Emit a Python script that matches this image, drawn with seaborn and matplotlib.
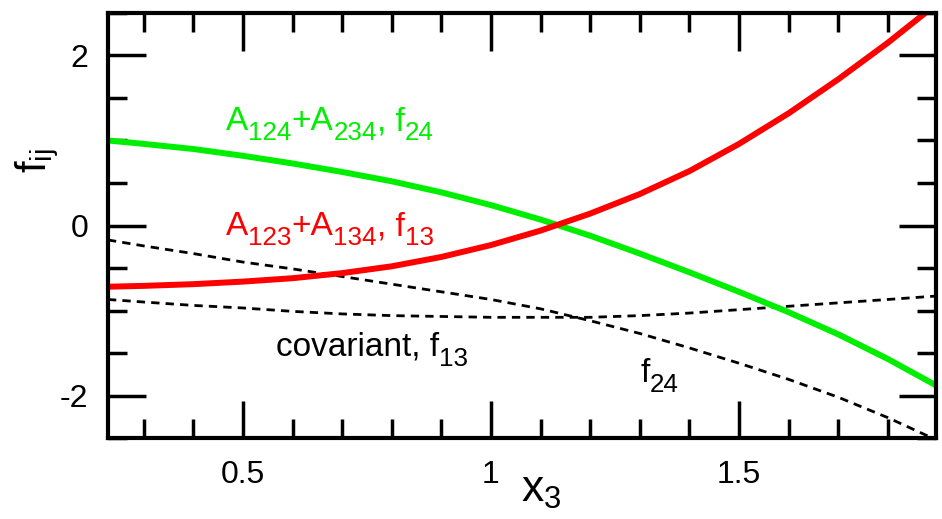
import numpy as np
import pandas as pd
import matplotlib
matplotlib.use('Agg')
import matplotlib.pyplot as plt
import seaborn as sns
from matplotlib.ticker import MultipleLocator

# values
x3 = [0.228, 0.3, 0.4, 0.5, 0.6, 0.7, 0.8, 0.9, 1.0, 1.1,
      1.2, 1.3, 1.4, 1.5, 1.6, 1.7, 1.8, 1.897]
f24_a124_a234 = [1.00, 0.96, 0.90, 0.82, 0.73, 0.63, 0.52, 0.39, 0.24, 0.07,
                 -0.12, -0.33, -0.55, -0.78, -1.02, -1.28, -1.57, -1.88]
f13_a123_a134 = [-0.72, -0.71, -0.69, -0.66, -0.62, -0.56, -0.48, -0.37, -0.23, -0.06,
                 0.14, 0.37, 0.64, 0.96, 1.32, 1.72, 2.15, 2.60]
f13_covariant = [-0.87, -0.90, -0.94, -0.97, -1.01, -1.04, -1.06, -1.07, -1.08, -1.08,
                 -1.08, -1.06, -1.03, -0.99, -0.95, -0.91, -0.87, -0.83]
f24_covariant = [-0.17, -0.24, -0.33, -0.43, -0.51, -0.60, -0.69, -0.78, -0.87, -0.98,
                 -1.12, -1.27, -1.44, -1.62, -1.81, -2.02, -2.26, -2.52]

df = pd.DataFrame({'x3': x3, 'green': f24_a124_a234, 'red': f13_a123_a134,
                   'cov13': f13_covariant, 'cov24': f24_covariant})

sns.set_theme(style='ticks')
plt.rcParams['font.family'] = ['Liberation Sans', 'DejaVu Sans']
plt.rcParams['mathtext.default'] = 'regular'
plt.rcParams['text.color'] = 'black'
plt.rcParams['axes.labelcolor'] = 'black'
plt.rcParams['xtick.color'] = 'black'
plt.rcParams['ytick.color'] = 'black'

GREEN = '#00ee00'
RED = '#ff0000'


def sub_label(ax, x, y, parts, color, size=24, ratio=0.78, drop=0.3):
    # write text with bigger subscripts than mathtext gives, piece by piece
    renderer = ax.figure.canvas.get_renderer()
    off = 0.0
    for s, sub in parts:
        fs = size * ratio if sub else size
        dy = -drop * size if sub else 0
        t = ax.annotate(s, (x, y), xytext=(off, dy), textcoords='offset points',
                        fontsize=fs, color=color, va='baseline', ha='left',
                        annotation_clip=False)
        off += t.get_window_extent(renderer).width * 72 / ax.figure.dpi


fig = plt.figure(figsize=(9.42, 5.19), dpi=100)
ax = fig.add_axes([0.1146, 0.156, 0.879, 0.819])

dots = (0, (3, 2.2))
sns.lineplot(data=df, x='x3', y='cov13', ax=ax, color='black', lw=2, linestyle=dots)
sns.lineplot(data=df, x='x3', y='cov24', ax=ax, color='black', lw=2, linestyle=dots)
sns.lineplot(data=df, x='x3', y='green', ax=ax, color=GREEN, lw=4.3)
sns.lineplot(data=df, x='x3', y='red', ax=ax, color=RED, lw=4.3)

ax.set_xlim(0.228, 1.897)
ax.set_ylim(-2.5, 2.5)
ax.xaxis.set_minor_locator(MultipleLocator(0.1))
ax.yaxis.set_minor_locator(MultipleLocator(0.5))
ax.set_xticks([0.5, 1, 1.5])
ax.set_xticklabels(['0.5', '1', '1.5'], fontsize=23)
ax.set_yticks([-2, 0, 2])
ax.set_yticklabels(['-2', '0', '2'], fontsize=23)

for s in ax.spines.values():
    s.set_linewidth(3)
    s.set_color('black')
ax.tick_params(which='both', direction='in', top=True, right=True, width=2.5, color='black')
ax.tick_params(which='major', length=27)
ax.tick_params(which='minor', length=13.5)
ax.tick_params(axis='x', which='major', pad=16)
ax.tick_params(axis='y', which='major', pad=14)

ax.set_xlabel('$x_3$', fontsize=32, va='baseline')
ax.xaxis.set_label_coords(0.5236, -0.151)
ax.set_ylabel('$f_{ij}$', fontsize=30, va='center')
ax.yaxis.set_label_coords(-0.086, 0.654)

sub_label(ax, 0.466, 1.118, [('A', 0), ('124', 1), ('+A', 0), ('234', 1), (', f', 0), ('24', 1)], GREEN)
sub_label(ax, 0.466, -0.114, [('A', 0), ('123', 1), ('+A', 0), ('134', 1), (', f', 0), ('13', 1)], RED)
sub_label(ax, 0.5665, -1.532, [('covariant, f', 0), ('13', 1)], 'black')
sub_label(ax, 1.302, -1.837, [('f', 0), ('24', 1)], 'black')

fig.savefig('out.png', dpi=100)
